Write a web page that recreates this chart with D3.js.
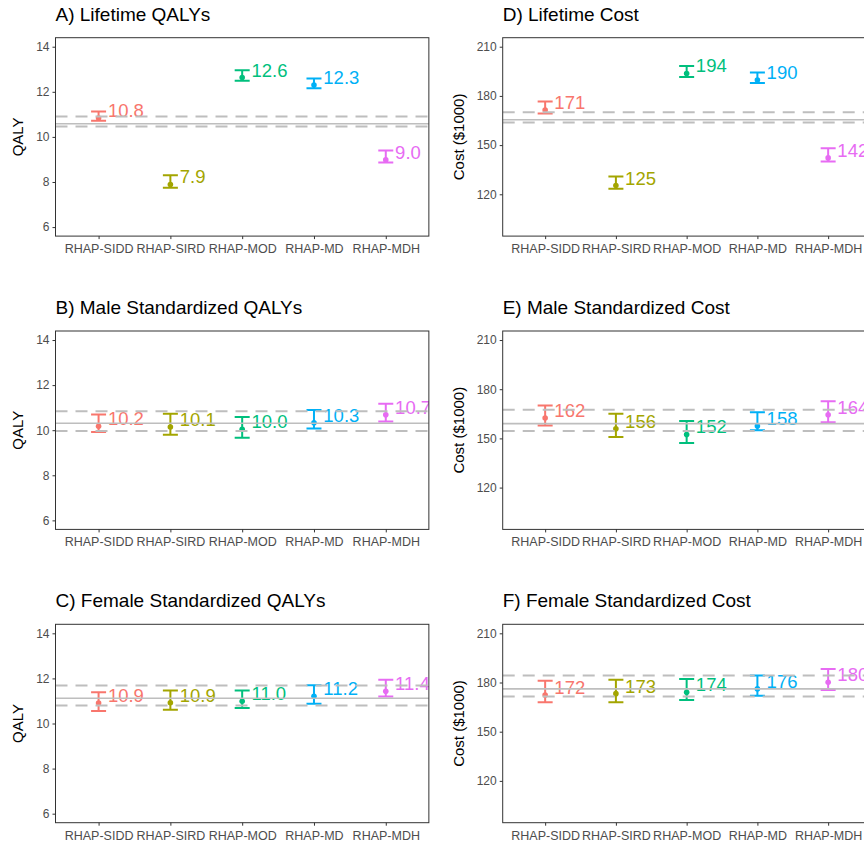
<!DOCTYPE html>
<html>
<head>
<meta charset="utf-8">
<script src="https://cdn.jsdelivr.net/npm/d3@7"></script>
<style>
  body { margin: 0; background: #fff; }
  text { font-family: "Liberation Sans", Arial, sans-serif; }
</style>
</head>
<body>
<div id="chart"></div>
<script>
// ----------------------------------------------------------
// Data
// ----------------------------------------------------------
const models = ["RHAP-SIDD", "RHAP-SIRD", "RHAP-MOD", "RHAP-MD", "RHAP-MDH"];
const colours = ["#F8766D", "#A3A500", "#00BF7D", "#00B0F6", "#E76BF3"];

const qalyTicks = [6, 8, 10, 12, 14];
const qalyLimits = [6, 14];
const costTicks = [120, 150, 180, 210];
const costLimits = [100, 210];

// A) Lifetime QALYs
const lifeQalyMean = [10.84, 7.89, 12.63, 12.30, 8.98];
const lifeQalyLow  = [10.72, 7.75, 12.49, 12.16, 8.86];
const lifeQalyHigh = [11.13, 8.30, 12.96, 12.59, 9.40];
const lifeQalyRef  = [10.46, 10.58, 10.91]; // lower, mean, upper

// B) Male Standardized QALYs
const maleQalyMean = [10.17, 10.14, 10.04, 10.33, 10.68];
const maleQalyLow  = [9.92, 9.80, 9.67, 10.07, 10.39];
const maleQalyHigh = [10.70, 10.73, 10.58, 10.90, 11.17];
const maleQalyRef  = [9.96, 10.31, 10.84];

// C) Female Standardized QALYs
const femQalyMean = [10.91, 10.92, 10.99, 11.21, 11.43];
const femQalyLow  = [10.55, 10.61, 10.69, 10.88, 11.20];
const femQalyHigh = [11.39, 11.46, 11.46, 11.70, 11.94];
const femQalyRef  = [10.80, 11.12, 11.68];

// D) Lifetime Cost ($1000)
const lifeCostMean = [171.4, 125.3, 193.7, 189.7, 142.2];
const lifeCostLow  = [169.3, 123.4, 191.6, 187.8, 140.0];
const lifeCostHigh = [176.6, 130.9, 198.3, 194.2, 148.1];
const lifeCostRef  = [163.8, 165.5, 170.1];

// E) Male Standardized Cost
const maleCostMean = [162.4, 155.9, 152.4, 157.6, 164.4];
const maleCostLow  = [157.9, 150.9, 147.2, 154.9, 159.9];
const maleCostHigh = [170.0, 165.0, 160.6, 166.0, 172.7];
const maleCostRef  = [154.5, 159.0, 167.4];

// F) Female Standardized Cost
const femCostMean = [172.4, 173.2, 174.0, 176.1, 180.1];
const femCostLow  = [168.0, 168.0, 169.4, 172.0, 175.5];
const femCostHigh = [181.1, 181.7, 182.2, 184.2, 188.2];
const femCostRef  = [171.4, 176.1, 184.2];

// ----------------------------------------------------------
// Layout
// ----------------------------------------------------------
const width = 864;
const height = 848;
const colLeft = [55.5, 502.7];
const colStep = [71.8, 70.75];
const rowTop = [37.7, 331, 624.3];
const panelH = 198.4;
const yTitleX = [18, 458.7];

const panels = [
  {title: "A) Lifetime QALYs", col: 0, row: 0, mean: lifeQalyMean, low: lifeQalyLow, high: lifeQalyHigh, ref: lifeQalyRef, kind: "qaly"},
  {title: "B) Male Standardized QALYs", col: 0, row: 1, mean: maleQalyMean, low: maleQalyLow, high: maleQalyHigh, ref: maleQalyRef, kind: "qaly"},
  {title: "C) Female Standardized QALYs", col: 0, row: 2, mean: femQalyMean, low: femQalyLow, high: femQalyHigh, ref: femQalyRef, kind: "qaly"},
  {title: "D) Lifetime Cost", col: 1, row: 0, mean: lifeCostMean, low: lifeCostLow, high: lifeCostHigh, ref: lifeCostRef, kind: "cost"},
  {title: "E) Male Standardized Cost", col: 1, row: 1, mean: maleCostMean, low: maleCostLow, high: maleCostHigh, ref: maleCostRef, kind: "cost"},
  {title: "F) Female Standardized Cost", col: 1, row: 2, mean: femCostMean, low: femCostLow, high: femCostHigh, ref: femCostRef, kind: "cost"}
];

const svg = d3.select("#chart").append("svg")
  .attr("width", width)
  .attr("height", height);
svg.append("rect").attr("width", width).attr("height", height).attr("fill", "#fff");

panels.forEach((p, i) => {
  const left = colLeft[p.col];
  const step = colStep[p.col];
  const top = rowTop[p.row];
  const w = step * 5.2;
  const lim = p.kind === "qaly" ? qalyLimits : costLimits;
  const pad = (lim[1] - lim[0]) * 0.05;
  const ticks = p.kind === "qaly" ? qalyTicks : costTicks;
  const fmt = p.kind === "qaly" ? d3.format(".1f") : d3.format(".0f");

  const x = d3.scalePoint().domain(models).range([left, left + w]).padding(0.6);
  const y = d3.scaleLinear().domain([lim[0] - pad, lim[1] + pad]).range([top + panelH, top]);

  const rows = models.map((m, j) => ({
    model: m, mean: p.mean[j], low: p.low[j], high: p.high[j], colour: colours[j]
  }));

  const g = svg.append("g");
  svg.append("clipPath").attr("id", "clip" + i)
    .append("rect").attr("x", left).attr("y", top).attr("width", w).attr("height", panelH);
  const plot = g.append("g").attr("clip-path", `url(#clip${i})`);

  // error bars
  const bars = plot.selectAll("g.bar").data(rows).enter().append("g")
    .attr("stroke", d => d.colour).attr("stroke-width", 2).attr("fill", "none");
  bars.append("line")
    .attr("x1", d => x(d.model)).attr("x2", d => x(d.model))
    .attr("y1", d => y(d.low)).attr("y2", d => y(d.high));
  bars.append("line")
    .attr("x1", d => x(d.model) - 7.5).attr("x2", d => x(d.model) + 7.5)
    .attr("y1", d => y(d.low)).attr("y2", d => y(d.low));
  bars.append("line")
    .attr("x1", d => x(d.model) - 7.5).attr("x2", d => x(d.model) + 7.5)
    .attr("y1", d => y(d.high)).attr("y2", d => y(d.high));

  plot.selectAll("circle").data(rows).enter().append("circle")
    .attr("cx", d => x(d.model)).attr("cy", d => y(d.mean))
    .attr("r", 2.8).attr("fill", d => d.colour);

  // value labels (clipped by the panel, as in the original)
  plot.selectAll("text.lab").data(rows).enter().append("text")
    .attr("x", d => x(d.model) + step * 0.13)
    .attr("y", d => y(d.mean) - 1)
    .attr("font-size", "18.5px")
    .attr("fill", d => d.colour)
    .text(d => fmt(d.mean));

  // reference lines (drawn over labels)
  p.ref.forEach((v, k) => {
    plot.append("line")
      .attr("x1", left).attr("x2", left + w)
      .attr("y1", y(v)).attr("y2", y(v))
      .attr("stroke", "#BEBEBE")
      .attr("stroke-width", k === 1 ? 1.6 : 2)
      .attr("stroke-dasharray", k === 1 ? null : "12,8");
  });

  // border
  g.append("rect").attr("x", left).attr("y", top).attr("width", w).attr("height", panelH)
    .attr("fill", "none").attr("stroke", "#333").attr("stroke-width", 1);

  // axes
  const yAxis = g.append("g").attr("transform", `translate(${left},0)`)
    .call(d3.axisLeft(y).tickValues(ticks).tickSize(3).tickPadding(3));
  const xAxis = g.append("g").attr("transform", `translate(0,${top + panelH})`)
    .call(d3.axisBottom(x).tickSize(3).tickPadding(5));
  [yAxis, xAxis].forEach(a => {
    a.select(".domain").remove();
    a.selectAll(".tick line").attr("stroke", "#333");
    a.selectAll(".tick text").attr("fill", "#4D4D4D").attr("font-family", "Liberation Sans, Arial, sans-serif");
  });
  yAxis.selectAll(".tick text").attr("font-size", "12px");
  xAxis.selectAll(".tick text").attr("font-size", "12.5px");

  // titles
  g.append("text").attr("x", left).attr("y", top - 17)
    .attr("font-size", "19px").attr("fill", "#000").text(p.title);
  g.append("text")
    .attr("transform", `translate(${yTitleX[p.col] + 5},${top + panelH / 2}) rotate(-90)`)
    .attr("text-anchor", "middle").attr("font-size", "15px").attr("fill", "#000")
    .text(p.kind === "qaly" ? "QALY" : "Cost ($1000)");
});
</script>
</body>
</html>
